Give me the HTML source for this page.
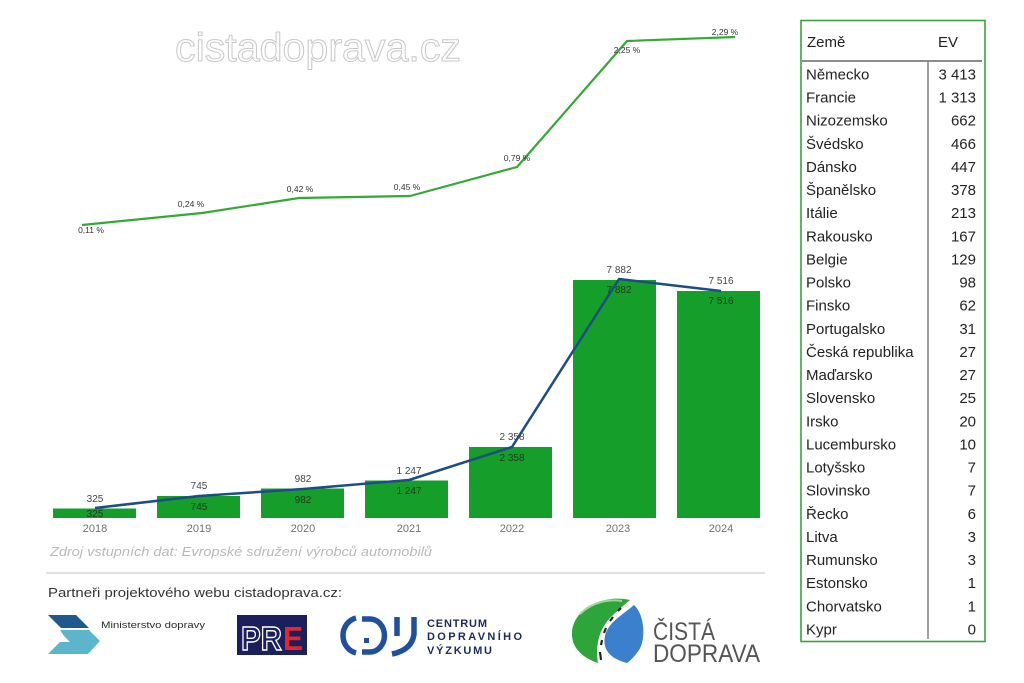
<!DOCTYPE html>
<html><head><meta charset="utf-8"><style>
html,body{margin:0;padding:0;background:#fff;}
svg{display:block;}
text{font-family:"Liberation Sans","DejaVu Sans",sans-serif;}
</style></head><body>
<svg width="1024" height="683" viewBox="0 0 1024 683" xmlns="http://www.w3.org/2000/svg">
<rect width="1024" height="683" fill="#fff"/>
<!-- watermark -->
<text x="175" y="61" font-size="40" fill="#fff" stroke="#c8c8c8" stroke-width="1" textLength="286" lengthAdjust="spacingAndGlyphs">cistadoprava.cz</text>

<!-- green share line -->
<polyline points="82,225 202,213 299,198 410,196 517,167 627,41 735,37" fill="none" stroke="#35a935" stroke-width="2.2" stroke-linejoin="round"/>
<g font-size="8.5" fill="#333" text-anchor="middle">
<text x="91" y="233">0,11 %</text>
<text x="191" y="207">0,24 %</text>
<text x="300" y="192">0,42 %</text>
<text x="407" y="190">0,45 %</text>
<text x="517" y="161">0,79 %</text>
<text x="627" y="53">2,25 %</text>
<text x="725" y="35">2,29 %</text>
</g>

<!-- bars -->
<g fill="#169e2b">
<rect x="53" y="508.5" width="83" height="9.5"/>
<rect x="157" y="496" width="83" height="22"/>
<rect x="261" y="488.5" width="83" height="29.5"/>
<rect x="365" y="480.5" width="83" height="37.5"/>
<rect x="469" y="447" width="83" height="71"/>
<rect x="573" y="280" width="83" height="238"/>
<rect x="677" y="291" width="83" height="227"/>
</g>
<!-- blue line -->
<polyline points="95,508 199,496 303,489 409,480 512,447 619,279 721,291" fill="none" stroke="#1d4c86" stroke-width="2.5" stroke-linejoin="round"/>
<g font-size="10" fill="#444" text-anchor="middle">
<text x="95" y="502">325</text>
<text x="199" y="489">745</text>
<text x="303" y="482">982</text>
<text x="409" y="474">1 247</text>
<text x="512" y="440">2 358</text>
<text x="619" y="273">7 882</text>
<text x="721" y="284">7 516</text>
</g>
<g font-size="10" fill="#1e3a1e" text-anchor="middle">
<text x="95" y="517">325</text>
<text x="199" y="510">745</text>
<text x="303" y="503">982</text>
<text x="409" y="494">1 247</text>
<text x="512" y="461">2 358</text>
<text x="619" y="293">7 882</text>
<text x="721" y="304">7 516</text>
</g>
<g font-size="11" fill="#707070" text-anchor="middle">
<text x="95" y="532">2018</text>
<text x="199" y="532">2019</text>
<text x="303" y="532">2020</text>
<text x="409" y="532">2021</text>
<text x="512" y="532">2022</text>
<text x="618" y="532">2023</text>
<text x="721" y="532">2024</text>
</g>
<text x="50" y="556" font-size="12.5" font-style="italic" fill="#b8b8b8" textLength="382" lengthAdjust="spacingAndGlyphs">Zdroj vstupních dat: Evropské sdružení výrobců automobilů</text>

<!-- separator -->
<line x1="46" y1="573" x2="765" y2="573" stroke="#cfcfcf" stroke-width="1.2"/>
<text x="48" y="597" font-size="12.5" fill="#333" textLength="294" lengthAdjust="spacingAndGlyphs">Partneři projektového webu cistadoprava.cz:</text>

<!-- Ministry logo -->
<polygon points="48,615 76,615 89,628 61,628" fill="#1f5a8e"/>
<polygon points="60,630 89,630 100,641 88,654 48,654 60,642 70,642 64,636" fill="#5db5cc"/>
<text x="101" y="628" font-size="9.5" fill="#2a2a2a" textLength="104" lengthAdjust="spacingAndGlyphs">Ministerstvo dopravy</text>

<!-- PRE logo -->
<rect x="237" y="615" width="70" height="40" fill="#1b1f5c"/>
<text x="241" y="650" font-size="33" font-weight="bold" fill="none" stroke="#fff" stroke-width="1.4" textLength="41" lengthAdjust="spacingAndGlyphs">PR</text>
<text x="283" y="650" font-size="33" font-weight="bold" fill="#e3262f" textLength="20" lengthAdjust="spacingAndGlyphs">E</text>

<!-- CDV logo -->
<g fill="none" stroke="#1f4f9f" stroke-width="5.5" stroke-linecap="butt">
<path d="M356,618 A17,18 0 0 0 356,653"/>
<path d="M362,619 L370,619 A14,16 0 0 1 370,652 L362,652"/>
<path d="M397,617 L397,636"/>
<path d="M414,617 L414,634 Q412,650 392,654"/>
</g>
<rect x="364" y="638" width="5" height="5" fill="#1f4f9f"/>
<g font-size="11" font-weight="bold" fill="#1c2a5c">
<text x="427" y="627" textLength="60" lengthAdjust="spacing">CENTRUM</text>
<text x="427" y="640" textLength="95" lengthAdjust="spacing">DOPRAVNÍHO</text>
<text x="427" y="654" textLength="65" lengthAdjust="spacing">VÝZKUMU</text>
</g>

<!-- Čistá doprava logo -->
<path d="M630,600 C604,594 574,608 572,632 C571,648 583,658 598,663 C595,646 599,630 610,618 C617,611 624,605 630,600 Z" fill="#2ea53a"/>
<path d="M580,614 C592,602 608,599 622,601" fill="none" stroke="#9ad89a" stroke-width="2"/>
<path d="M634,605 C646,616 645,642 639,650 C635,656 630,661 627,663 C611,659 602,650 605,636 C608,622 624,614 634,605 Z" fill="#3b80cc"/>
<g stroke="#222" stroke-width="2.2">
<line x1="621" y1="608" x2="618" y2="611"/>
<line x1="613" y1="617" x2="610" y2="621"/>
<line x1="606" y1="628" x2="604" y2="633"/>
<line x1="602" y1="640" x2="601" y2="645"/>
<line x1="600" y1="652" x2="601" y2="660"/>
</g>
<g font-size="25" fill="#555">
<text x="653" y="640" textLength="62" lengthAdjust="spacingAndGlyphs">ČISTÁ</text>
<text x="653" y="662" textLength="107" lengthAdjust="spacingAndGlyphs">DOPRAVA</text>
</g>

<!-- Table -->
<rect x="801" y="20.5" width="184" height="621" fill="#fff" stroke="#3aa23a" stroke-width="1.6"/>
<line x1="802" y1="61" x2="982" y2="61" stroke="#666" stroke-width="1.6"/>
<line x1="928" y1="61" x2="928" y2="639" stroke="#777" stroke-width="1.4"/>
<g font-size="15" fill="#222">
<text x="807" y="47">Země</text>
<text x="938" y="47">EV</text>
</g>
<g font-size="15" fill="#222">
<text x="806" y="79.5">Německo</text>
<text x="806" y="102.6">Francie</text>
<text x="806" y="125.7">Nizozemsko</text>
<text x="806" y="148.9">Švédsko</text>
<text x="806" y="172">Dánsko</text>
<text x="806" y="195.1">Španělsko</text>
<text x="806" y="218.2">Itálie</text>
<text x="806" y="241.4">Rakousko</text>
<text x="806" y="264.5">Belgie</text>
<text x="806" y="287.6">Polsko</text>
<text x="806" y="310.7">Finsko</text>
<text x="806" y="333.9">Portugalsko</text>
<text x="806" y="357">Česká republika</text>
<text x="806" y="380.1">Maďarsko</text>
<text x="806" y="403.2">Slovensko</text>
<text x="806" y="426.4">Irsko</text>
<text x="806" y="449.5">Lucembursko</text>
<text x="806" y="472.6">Lotyšsko</text>
<text x="806" y="495.7">Slovinsko</text>
<text x="806" y="518.9">Řecko</text>
<text x="806" y="542">Litva</text>
<text x="806" y="565.1">Rumunsko</text>
<text x="806" y="588.2">Estonsko</text>
<text x="806" y="611.4">Chorvatsko</text>
<text x="806" y="634.5">Kypr</text>
</g>
<g font-size="15" fill="#222" text-anchor="end">
<text x="976" y="79.5">3 413</text>
<text x="976" y="102.6">1 313</text>
<text x="976" y="125.7">662</text>
<text x="976" y="148.9">466</text>
<text x="976" y="172">447</text>
<text x="976" y="195.1">378</text>
<text x="976" y="218.2">213</text>
<text x="976" y="241.4">167</text>
<text x="976" y="264.5">129</text>
<text x="976" y="287.6">98</text>
<text x="976" y="310.7">62</text>
<text x="976" y="333.9">31</text>
<text x="976" y="357">27</text>
<text x="976" y="380.1">27</text>
<text x="976" y="403.2">25</text>
<text x="976" y="426.4">20</text>
<text x="976" y="449.5">10</text>
<text x="976" y="472.6">7</text>
<text x="976" y="495.7">7</text>
<text x="976" y="518.9">6</text>
<text x="976" y="542">3</text>
<text x="976" y="565.1">3</text>
<text x="976" y="588.2">1</text>
<text x="976" y="611.4">1</text>
<text x="976" y="634.5">0</text>
</g>
</svg>
</body></html>
